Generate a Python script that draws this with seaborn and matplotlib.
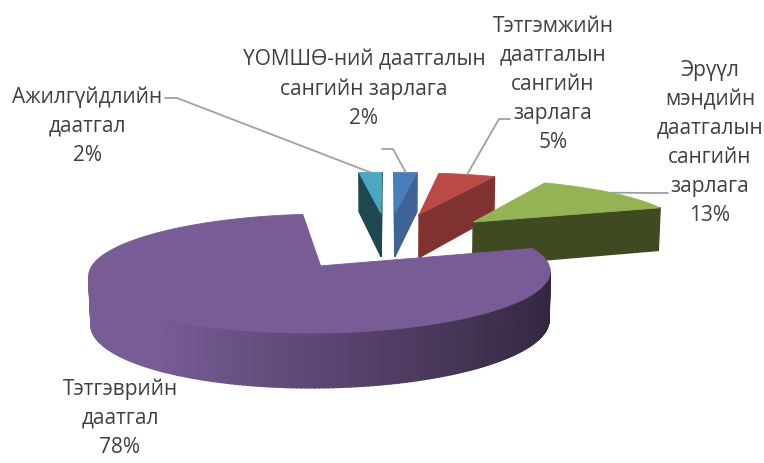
import numpy as np
import matplotlib
matplotlib.use("Agg")
import matplotlib.pyplot as plt
import seaborn as sns
from matplotlib.patches import Polygon

# data (clockwise from 12 o'clock, Excel series order)
labels = [
    "ҮОМШӨ-ний даатгалын\nсангийн зарлага",
    "Тэтгэмжийн\nдаатгалын\nсангийн\nзарлага",
    "Эрүүл\nмэндийн\nдаатгалын\nсангийн\nзарлага",
    "Тэтгэврийн\nдаатгал",
    "Ажилгүйдлийн\nдаатгал",
]
shares = [2, 5, 13, 78, 2]

# styles
top_colors = ["#4A7EBB", "#BA4A46", "#94B355", "#785C96", "#4BA8C2"]
wall_colors = ["#3D6494", "#803230", "#3F4A22", "#785C96", "#1E4850"]

# label layout (pixel positions of text centre) and leader elbows
label_pos = [(364, 89), (553, 84), (710, 143), (120, 418), (87, 126)]
leader_start = [[(382, 149), (393, 149)], [(510, 119), (499, 119)],
                [(668, 193), (655, 193)], None, [(165, 98), (177, 98)]]

# fake 3D camera
cx, cy = 388, 286
f, D = 1714, 8.0
el = np.deg2rad(15.5)
h = 0.22
explode = 0.55
s_el, c_el = np.sin(el), np.cos(el)
cam = np.array([0, -D * c_el, D * s_el])


def proj(X, Y, Z):
    zc = D + Y * c_el - Z * s_el
    yc = Y * s_el + Z * c_el
    return cx + f * X / zc, cy - f * yc / zc


def depth(X, Y, Z):
    return D + Y * c_el - Z * s_el


def visible(n, p):
    return np.dot(n, cam - p) > 0


def shade(color, k):
    r, g, b = matplotlib.colors.to_rgb(color)
    k = min(max(k, 0.0), 1.0)
    return (r * k, g * k, b * k)


sns.set_style("white")
plt.rcParams['font.family'] = ['Open Sans', 'DejaVu Sans']

fig = plt.figure(figsize=(7.64, 4.63), dpi=100)
ax = fig.add_axes([0, 0, 1, 1])
ax.set_xlim(0, 764)
ax.set_ylim(463, 0)
ax.axis("off")

bounds = np.concatenate([[0], np.cumsum(shares)]) * 3.6
slices = []
for i in range(len(shares)):
    a0, a1 = bounds[i], bounds[i + 1]
    am = np.deg2rad((a0 + a1) / 2)
    ox, oy = explode * np.sin(am), explode * np.cos(am)
    slices.append((depth(ox, oy, h), i, a0, a1, ox, oy))

# painter's order: back to front
for _, i, a0, a1, ox, oy in sorted(slices, reverse=True):
    t = np.deg2rad(np.linspace(a0, a1, max(3, int(a1 - a0) + 1)))
    X = ox + np.sin(t)
    Y = oy + np.cos(t)
    faces = []
    # radial walls
    r0, r1 = np.deg2rad(a0), np.deg2rad(a1)
    for n, k in [((-np.cos(r0), np.sin(r0), 0), 0), ((np.cos(r1), -np.sin(r1), 0), -1)]:
        if visible(np.array(n), np.array([ox, oy, 0])):
            pts = [proj(ox, oy, 0), proj(ox, oy, h), proj(X[k], Y[k], h), proj(X[k], Y[k], 0)]
            faces.append((depth(ox, oy, 0), pts, wall_colors[i]))
    # outer wall
    for j in range(len(t) - 1):
        tm = (t[j] + t[j + 1]) / 2
        n = np.array([np.sin(tm), np.cos(tm), 0])
        p = np.array([ox + n[0], oy + n[1], 0])
        if visible(n, p):
            pts = [proj(X[j], Y[j], 0), proj(X[j], Y[j], h),
                   proj(X[j + 1], Y[j + 1], h), proj(X[j + 1], Y[j + 1], 0)]
            col = shade(top_colors[i], 0.78 - 0.36 * np.sin(tm))
            faces.append((depth(p[0], p[1], 0), pts, col))
    for _, pts, col in sorted(faces, key=lambda q: -q[0]):
        ax.add_patch(Polygon(pts, closed=True, fc=col, ec=col, lw=1.1))
    top = [proj(ox, oy, h)] + [proj(x, y, h) for x, y in zip(X, Y)]
    ax.add_patch(Polygon(top, closed=True, fc=top_colors[i], ec=top_colors[i], lw=0.6))

    # label + leader
    lx, ly = label_pos[i]
    ax.text(lx, ly, f"{labels[i]}\n{shares[i]}%", ha="center", va="center",
            fontsize=15, color="#404040", linespacing=1.5)
    if leader_start[i] is not None:
        am = np.deg2rad((a0 + a1) / 2)
        ex, ey = proj(ox + np.sin(am), oy + np.cos(am), h)
        xs = [p[0] for p in leader_start[i]] + [ex]
        ys = [p[1] for p in leader_start[i]] + [ey]
        ax.plot(xs, ys, color="#A0A0A0", lw=1.3)

fig.savefig("out.png", dpi=100)
